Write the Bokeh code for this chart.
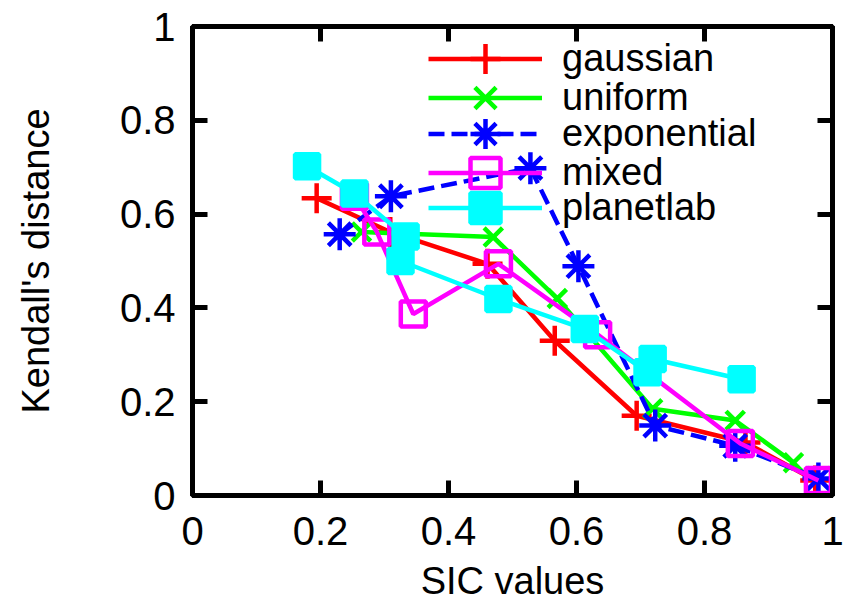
from bokeh.plotting import figure
from bokeh.models import Range1d, LinearAxis, FixedTicker, Legend, LegendItem
from bokeh.embed import file_html
from bokeh.resources import INLINE

# ---- data ----
tick_values = [0, 0.2, 0.4, 0.6, 0.8, 1]
tick_labels = ["0", "0.2", "0.4", "0.6", "0.8", "1"]

x_title = "SIC values"
y_title = "Kendall's distance"

series_names = ["gaussian", "uniform", "exponential", "mixed", "planetlab"]

gaussian_x = [0.194, 0.309, 0.461, 0.566, 0.694, 0.864, 0.973]
gaussian_y = [0.634, 0.562, 0.494, 0.330, 0.170, 0.113, 0.032]

uniform_x = [0.264, 0.470, 0.570, 0.719, 0.848, 0.939]
uniform_y = [0.562, 0.551, 0.420, 0.185, 0.160, 0.070]

exponential_x = [0.230, 0.310, 0.528, 0.603, 0.723, 0.848, 0.978]
exponential_y = [0.557, 0.638, 0.698, 0.489, 0.149, 0.106, 0.036]

mixed_x = [0.253, 0.288, 0.345, 0.478, 0.633, 0.856, 0.978]
mixed_y = [0.638, 0.562, 0.387, 0.494, 0.343, 0.111, 0.032]

planetlab_x = [0.179, 0.253, 0.333, 0.325, 0.478, 0.613, 0.711, 0.719, 0.858]
planetlab_y = [0.702, 0.644, 0.552, 0.500, 0.419, 0.355, 0.263, 0.291, 0.248]

FONT = "Liberation Sans"

p = figure(width=849, height=606, output_backend="svg", toolbar_location=None,
           x_range=Range1d(0, 1), y_range=Range1d(0, 1),
           min_border_left=192, min_border_right=17,
           min_border_top=26, min_border_bottom=111)
p.xgrid.visible = False
p.ygrid.visible = False
p.outline_line_color = "black"
p.outline_line_width = 5
p.background_fill_color = "white"
p.border_fill_color = "white"

overrides = dict(zip(tick_values, tick_labels))


def style_axis(ax, show_labels=True):
    ax.ticker = FixedTicker(ticks=tick_values)
    ax.axis_line_color = "black"
    ax.axis_line_width = 5
    ax.major_tick_in = 15
    ax.major_tick_out = 0
    ax.major_tick_line_width = 5
    ax.major_tick_line_color = "black"
    ax.minor_tick_line_color = None
    if show_labels:
        ax.major_label_overrides = overrides
        ax.major_label_text_font = FONT
        ax.major_label_text_font_size = "40px"
        ax.major_label_text_color = "black"
        ax.axis_label_text_font = FONT
        ax.axis_label_text_font_size = "38px"
        ax.axis_label_text_font_style = "normal"
        ax.axis_label_text_color = "black"
    else:
        ax.major_label_text_font_size = "1px"
        ax.major_label_text_color = None
        ax.major_label_standoff = 0


xa = p.xaxis[0]
ya = p.yaxis[0]
style_axis(xa)
style_axis(ya)
xa.axis_label = x_title
xa.major_label_standoff = 21
xa.axis_label_standoff = 12
ya.axis_label = y_title
ya.major_label_standoff = 17
ya.axis_label_standoff = 60

top_axis = LinearAxis()
right_axis = LinearAxis()
style_axis(top_axis, show_labels=False)
style_axis(right_axis, show_labels=False)
p.add_layout(top_axis, "above")
p.add_layout(right_axis, "right")

LW = 4.5
specs = [
    (gaussian_x, gaussian_y, "#ff0000", "cross", "solid", 30, None),
    (uniform_x, uniform_y, "#00ff00", "x", "solid", 26, None),
    (exponential_x, exponential_y, "#0000ff", "asterisk", "16 7", 32, None),
    (mixed_x, mixed_y, "#ff00ff", "square", "solid", 25, None),
    (planetlab_x, planetlab_y, "#00ffff", "square", "solid", 24, "#00ffff"),
]

legend_centers = [58, 97, 133, 172, 207.5]
frame_bottom = 495

for name, (xs, ys, color, marker, dash, size, fill), yc in zip(series_names, specs, legend_centers):
    rl = p.line(xs, ys, line_color=color, line_width=LW, line_dash=dash)
    rs = p.scatter(xs, ys, marker=marker, size=size, line_color=color,
                   line_width=LW, fill_color=fill)
    leg = Legend(items=[LegendItem(label=name, renderers=[rl, rs])],
                 location=(236, frame_bottom - yc - 37.5),
                 orientation="vertical",
                 glyph_width=114, glyph_height=75, label_height=75,
                 label_standoff=20, padding=0, margin=0, spacing=0,
                 border_line_color=None, background_fill_alpha=0,
                 label_text_font=FONT, label_text_font_size="38px",
                 label_text_color="black")
    p.add_layout(leg, "center")

open("out.html", "w").write(file_html(p, INLINE))
